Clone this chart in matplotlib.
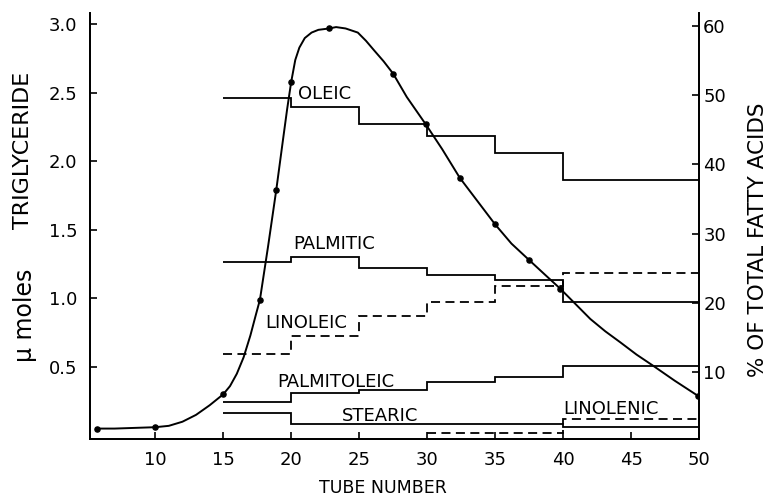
import numpy as np
import matplotlib
matplotlib.use("Agg")
from matplotlib import pyplot as plt

# 甘油三酯洗脱曲线（左轴，µmoles），从图上逐点读取
curve_tube = [5.7, 7, 8.5, 10, 11, 12, 13, 14, 15, 15.5, 16, 16.5, 17, 17.4, 17.7, 18.3, 18.9,
              19.4, 19.7, 20, 20.3, 20.6, 21, 21.5, 22, 22.8, 23.3, 24, 24.9, 25.5, 26.1, 26.8,
              27.5, 28.5, 29.9, 31.1, 32.4, 33.7, 35, 36.2, 37.5, 38.7, 39.8, 41, 42, 43.1,
              44.2, 45.4, 46.6, 48.2, 49.9]
curve_umol = [0.05, 0.05, 0.055, 0.06, 0.07, 0.10, 0.15, 0.22, 0.30, 0.36, 0.45, 0.57, 0.73, 0.88, 0.99, 1.38, 1.79,
              2.16, 2.38, 2.58, 2.74, 2.83, 2.90, 2.94, 2.96, 2.97, 2.98, 2.97, 2.94, 2.88, 2.81, 2.73,
              2.64, 2.47, 2.27, 2.09, 1.88, 1.71, 1.54, 1.40, 1.28, 1.17, 1.07, 0.95, 0.85, 0.76,
              0.68, 0.59, 0.51, 0.40, 0.29]
dot_tube = [5.7, 10, 15, 17.7, 18.9, 20, 22.8, 27.5, 29.9, 32.4, 35, 37.5, 39.8, 49.9]
dot_umol = [0.05, 0.06, 0.30, 0.99, 1.79, 2.58, 2.97, 2.64, 2.27, 1.88, 1.54, 1.28, 1.07, 0.29]

# 脂肪酸组成（右轴，%），按管段分组
edges = [15, 20, 25, 30, 35, 40, 50]
oleic = [49.6, 48.3, 45.8, 44.1, 41.7, 37.7]
palmitic = [26.0, 26.7, 25.0, 24.0, 23.4, 20.2]
linoleic = [12.7, 15.2, 18.1, 20.2, 22.5, 24.3]
palmitoleic = [5.7, 7.1, 7.5, 8.6, 9.3, 10.9]
stearic = [4.2, 2.6, 2.6, 2.6, 2.6, 2.2]
linolenic_edges = [30, 40, 50]
linolenic = [1.3, 3.3]

fig = plt.figure(figsize=(7.71, 4.98), dpi=100)
ax = fig.add_axes([0.1167, 0.1185, 0.79, 0.856])
ax2 = ax.twinx()

ax.plot(curve_tube, curve_umol, color='black', linewidth=1.4, solid_joinstyle='round')
ax.plot(dot_tube, dot_umol, 'o', color='black', markersize=3.7)

dash = (0, (5, 3))
ax2.stairs(oleic, edges, baseline=None, color='black', linewidth=1.3)
ax2.stairs(palmitic, edges, baseline=None, color='black', linewidth=1.3)
ax2.stairs(linoleic, edges, baseline=None, color='black', linewidth=1.3, linestyle=dash)
ax2.stairs(palmitoleic, edges, baseline=None, color='black', linewidth=1.3)
ax2.stairs(stearic, edges, baseline=None, color='black', linewidth=1.3)
ax2.stairs(linolenic, linolenic_edges, baseline=None, color='black', linewidth=1.3, linestyle=dash)

ax.set_xlim(5.2, 50)
ax.set_ylim(-0.026, 3.085)
ax2.set_ylim(0.4, 61.9)

ax.set_xticks([10, 15, 20, 25, 30, 35, 40, 45, 50])
ax.set_yticks([0.5, 1.0, 1.5, 2.0, 2.5, 3.0])
ax.set_yticklabels(['0.5', '1.0', '1.5', '2.0', '2.5', '3.0'])
ax2.set_yticks([10, 20, 30, 40, 50, 60])

for a in (ax, ax2):
    a.spines['top'].set_visible(False)
    a.tick_params(direction='in', length=5, width=1.2, labelsize=13)
    for s in a.spines.values():
        s.set_linewidth(1.3)
ax.tick_params(axis='y', pad=9)
ax.tick_params(axis='x', pad=9)
ax2.tick_params(axis='y', pad=3)

fig.text(383 / 771, 1 - 488 / 498, 'TUBE NUMBER', fontsize=12.5, ha='center', va='center')
fig.text(758 / 771, 1 - 240 / 498, '% OF TOTAL FATTY ACIDS', rotation=90, fontsize=15.5,
         ha='center', va='center')
fig.text(0.03, 1 - 150 / 498, 'TRIGLYCERIDE', rotation=90, fontsize=16, ha='center', va='center')
fig.text(0.032, 1 - 315 / 498, 'μ moles', rotation=90, fontsize=17, ha='center', va='center')

# 各曲线标注
lab = dict(fontsize=13, ha='left', va='center', transform=fig.transFigure)
ax.text(298 / 771, 1 - 94 / 498, 'OLEIC', **lab)
ax.text(293 / 771, 1 - 244 / 498, 'PALMITIC', **lab)
ax.text(265 / 771, 1 - 323 / 498, 'LINOLEIC', **lab)
ax.text(277 / 771, 1 - 382 / 498, 'PALMITOLEIC', **lab)
ax.text(342 / 771, 1 - 416 / 498, 'STEARIC', **lab)
ax.text(563 / 771, 1 - 409 / 498, 'LINOLENIC', **lab)

fig.savefig('out.png', dpi=100)
